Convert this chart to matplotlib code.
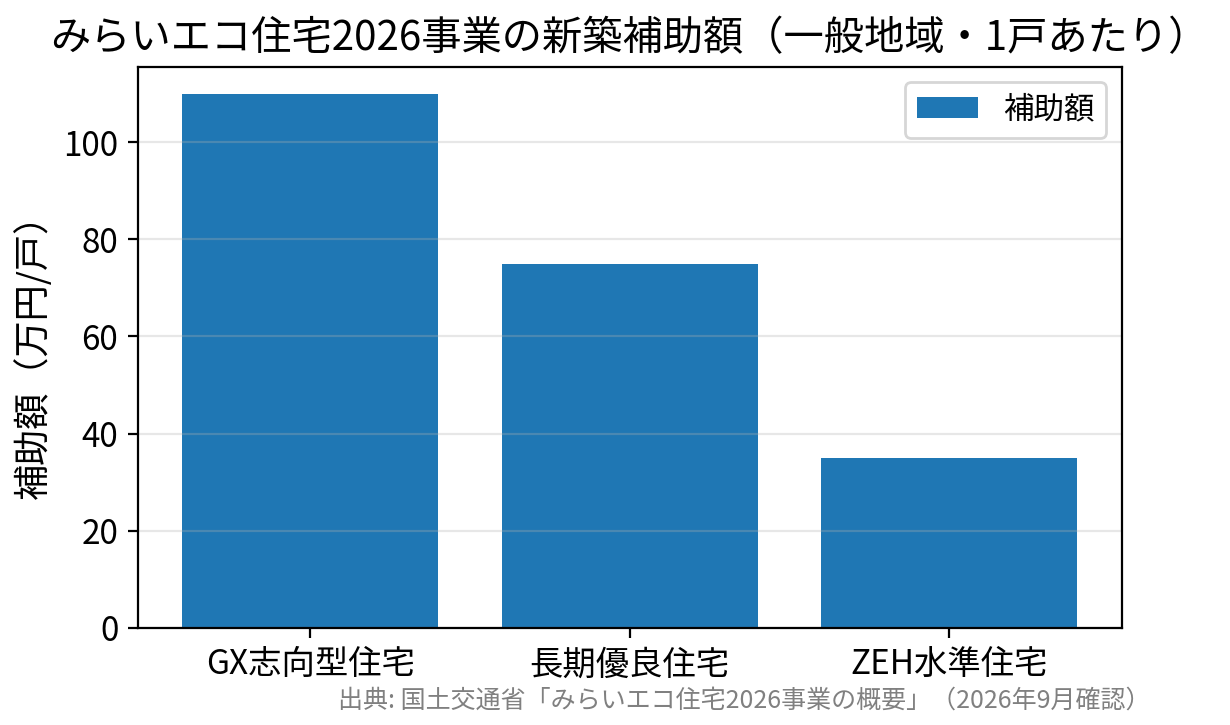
import matplotlib.pyplot as plt

plt.rcParams['font.family'] = ['Noto Sans CJK JP', 'DejaVu Sans']

categories = ["GX志向型住宅", "長期優良住宅", "ZEH水準住宅"]
subsidy = [110, 75, 35]

title = "みらいエコ住宅2026事業の新築補助額（一般地域・1戸あたり）"
source = "出典: 国土交通省「みらいエコ住宅2026事業の概要」（2026年9月確認）"


def plot():
    fig = plt.figure(figsize=(6.15, 3.625), dpi=200)
    ax = fig.add_axes([0.112, 0.134, 0.8, 0.7736])

    ax.bar(categories, subsidy, color="#1f77b4", label="補助額")

    ax.set_title(title, fontsize=14.5, pad=6)
    ax.set_ylabel("補助額（万円/戸）", fontsize=13)
    ax.tick_params(axis='both', labelsize=12)
    ax.grid(axis='y', alpha=0.3)
    ax.legend(loc='upper right', fontsize=11)

    fig.text(0.935, 0.033, source, ha='right', va='center', fontsize=9, color='gray')

    fig.savefig("out.png", dpi=200)


def main():
    plot()


if __name__ == "__main__":
    main()
